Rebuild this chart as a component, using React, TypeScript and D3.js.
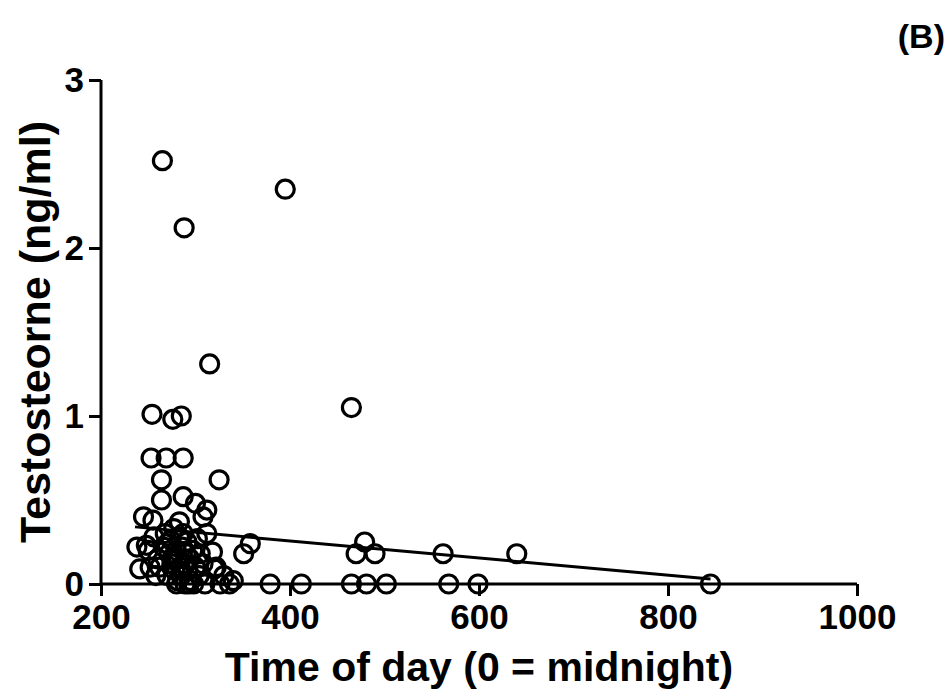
import { useEffect, useRef } from "react";
import * as d3 from "d3";

// x = time of day (minutes after midnight), y = testosterone (ng/ml)
const timeOfDay = [
  265, 395, 288, 315, 465, 254, 276, 285, 253, 269, 287, 264, 325, 264, 287, 300, 312,
  245, 255, 283, 308, 358, 351, 479, 470, 490, 562, 640, 238, 241, 248,
  336, 379, 412, 465, 481, 502, 568, 599, 845,
  250, 256, 260, 262, 266, 268, 270, 272, 274, 275, 277, 278, 280, 281, 282, 283, 284,
  285, 286, 287, 288, 289, 290, 291, 292, 294, 295, 297, 298, 300, 302, 304, 305, 308,
  310, 312, 318, 320, 322, 326, 330, 340, 252, 258, 280, 293, 276, 270,
];
const testosterone = [
  2.52, 2.35, 2.12, 1.31, 1.05, 1.01, 0.98, 1.0, 0.75, 0.75, 0.75, 0.62, 0.62, 0.5, 0.52, 0.48, 0.44,
  0.4, 0.38, 0.37, 0.4, 0.24, 0.18, 0.25, 0.18, 0.18, 0.18, 0.18, 0.22, 0.09, 0.23,
  0.0, 0.0, 0.0, 0.0, 0.0, 0.0, 0.0, 0.0, 0.0,
  0.2, 0.28, 0.15, 0.1, 0.22, 0.3, 0.05, 0.18, 0.26, 0.12, 0.33, 0.08, 0.2, 0.02, 0.15, 0.28, 0.1,
  0.05, 0.22, 0.3, 0.12, 0.0, 0.18, 0.25, 0.08, 0.15, 0.02, 0.2, 0.0, 0.1, 0.27, 0.05, 0.18, 0.12,
  0.0, 0.3, 0.19, 0.09, 0.1, 0.0, 0.05, 0.02, 0.1, 0.05, 0.0, 0.0, 0.16, 0.24,
];
// fitted regression line end points
const fitX = [236, 845];
const fitY = [0.34, 0.03];

const xTicks = [200, 400, 600, 800, 1000];
const yTicks = [0, 1, 2, 3];

export default function App() {
  const svgRef = useRef<SVGSVGElement>(null);

  useEffect(() => {
    const width = 951;
    const height = 696;
    const marginLeft = 101;
    const marginRight = 94;
    const marginTop = 80;
    const marginBottom = 112;
    const font = "'Liberation Sans', Arial, sans-serif";

    const svg = d3.select(svgRef.current);
    svg.selectAll("*").remove();
    svg.attr("viewBox", [0, 0, width, height]);

    const x = d3.scaleLinear().domain([200, 1000]).range([marginLeft, width - marginRight]);
    const y = d3.scaleLinear().domain([0, 3]).range([height - marginBottom, marginTop]);

    const xAxis = svg.append("g")
      .attr("transform", `translate(0,${height - marginBottom})`)
      .call(d3.axisBottom(x).tickValues(xTicks).tickSize(12).tickPadding(8).tickFormat(d3.format("d")));
    xAxis.select(".domain").attr("stroke-width", 3).attr("d", `M${marginLeft},0H${width - marginRight}`);
    xAxis.selectAll(".tick line").attr("stroke-width", 3);
    xAxis.selectAll(".tick text")
      .attr("font-family", font).attr("font-weight", "bold").attr("font-size", 35).attr("fill", "#000");

    const yAxis = svg.append("g")
      .attr("transform", `translate(${marginLeft},0)`)
      .call(d3.axisLeft(y).tickValues(yTicks).tickSize(12).tickPadding(5).tickFormat(d3.format("d")));
    yAxis.select(".domain").attr("stroke-width", 3).attr("d", `M0,${marginTop}V${height - marginBottom}`);
    yAxis.selectAll(".tick line").attr("stroke-width", 3);
    yAxis.selectAll(".tick text")
      .attr("font-family", font).attr("font-weight", "bold").attr("font-size", 35).attr("fill", "#000");

    // regression line
    svg.append("path")
      .datum(d3.zip(fitX, fitY))
      .attr("fill", "none")
      .attr("stroke", "#000")
      .attr("stroke-width", 3)
      .attr("d", d3.line<number[]>().x(d => x(d[0])).y(d => y(d[1])));

    svg.append("g")
      .selectAll("circle")
      .data(d3.zip(timeOfDay, testosterone))
      .join("circle")
      .attr("cx", d => x(d[0]))
      .attr("cy", d => y(d[1]))
      .attr("r", 9)
      .attr("fill", "none")
      .attr("stroke", "#000")
      .attr("stroke-width", 3.2);

    svg.append("text")
      .attr("x", (marginLeft + width - marginRight) / 2)
      .attr("y", 681)
      .attr("text-anchor", "middle")
      .attr("font-family", font).attr("font-weight", "bold").attr("font-size", 41)
      .text("Time of day (0 = midnight)");

    svg.append("text")
      .attr("transform", `translate(50,${(marginTop + height - marginBottom) / 2}) rotate(-90)`)
      .attr("text-anchor", "middle")
      .attr("font-family", font).attr("font-weight", "bold").attr("font-size", 43)
      .text("Testosteorne (ng/ml)");

    svg.append("text")
      .attr("x", 945)
      .attr("y", 48)
      .attr("text-anchor", "end")
      .attr("font-family", font).attr("font-weight", "bold").attr("font-size", 34)
      .text("(B)");
  }, []);

  return (
    <svg ref={svgRef} width={951} height={696}
      style={{ position: "absolute", left: 0, top: 0, background: "#fff" }}></svg>
  );
}
